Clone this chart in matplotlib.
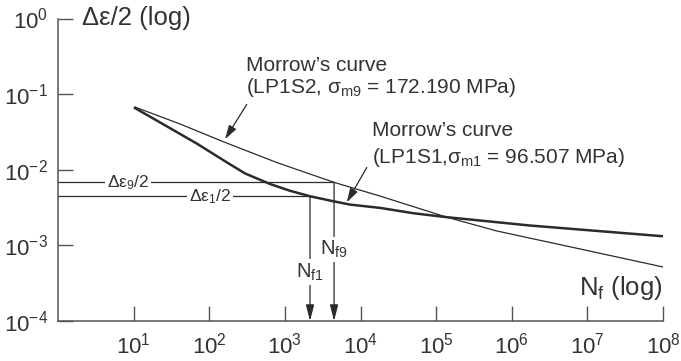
import matplotlib
matplotlib.use("Agg")
import matplotlib.pyplot as plt

plt.rcParams['font.family'] = ['Liberation Sans', 'DejaVu Sans']
plt.rcParams['mathtext.fontset'] = 'custom'
plt.rcParams['mathtext.rm'] = 'Liberation Sans'
plt.rcParams['mathtext.it'] = 'Liberation Sans'
plt.rcParams['mathtext.bf'] = 'Liberation Sans:bold'

# ---- data ----
# Morrow's curve LP1S1 (sigma_m1 = 96.507 MPa), thick line
n_lp1s1 = [10.4, 24.7, 68.4, 172, 298, 637, 1150, 2150, 4385, 7280, 18200, 50100,
           138000, 1.75e6, 1e8]
e_lp1s1 = [0.0655, 0.0399, 0.0222, 0.01247, 0.00893, 0.00648, 0.00530, 0.00446,
           0.00383, 0.00346, 0.00313, 0.00266, 0.00236, 0.00183, 0.00132]
# Morrow's curve LP1S2 (sigma_m9 = 172.190 MPa), thin line
n_lp1s2 = [10.4, 41.1, 153, 780, 4470, 18200, 138000, 635000, 4.83e6, 1e8]
e_lp1s2 = [0.0675, 0.0403, 0.0235, 0.01247, 0.00681, 0.00448, 0.00236, 0.00155,
           0.00100, 0.000518]
# strain amplitudes and lives
de9_half = 0.00681
de1_half = 0.00446
nf9 = 4470
nf1 = 2150

x_ticks = [1e1, 1e2, 1e3, 1e4, 1e5, 1e6, 1e7, 1e8]
x_ticklabels = [r'$10^{%d}$' % k for k in range(1, 9)]
y_ticks = [1e-4, 1e-3, 1e-2, 1e-1, 1e0]
y_ticklabels = [r'$10^{-4}$', r'$10^{-3}$', r'$10^{-2}$', r'$10^{-1}$', r'$10^{0}$']

INK = '#2b2b2b'
AX = '#555555'
TXT = '#333333'

fig = plt.figure(figsize=(6.81, 3.61), dpi=100)
ax = fig.add_axes([58/681, 1 - 321/361, (663 - 58)/681, (321 - 18.5)/361])
ax.set_xscale('log')
ax.set_yscale('log')
ax.set_xlim(1, 1e8)
ax.set_ylim(1e-4, 1)

for s in ['top', 'right']:
    ax.spines[s].set_visible(False)
for s in ['left', 'bottom']:
    ax.spines[s].set_color(AX)
    ax.spines[s].set_linewidth(1.1)

ax.set_xticks(x_ticks)
ax.set_xticklabels(x_ticklabels)
ax.set_yticks(y_ticks)
ax.set_yticklabels(y_ticklabels)
ax.minorticks_off()
ax.tick_params(axis='both', which='major', direction='in', length=11, width=1.0,
               color=AX, labelcolor=TXT, labelsize=16)
ax.tick_params(axis='x', pad=8)
ax.tick_params(axis='y', pad=7)

# curves
ax.plot(n_lp1s1, e_lp1s1, color=INK, lw=1.8, solid_joinstyle='round')
ax.plot(n_lp1s2, e_lp1s2, color=INK, lw=0.9, solid_joinstyle='round')

# horizontal reference lines
ax.plot([1, nf9], [de9_half, de9_half], color=INK, lw=0.9)
ax.plot([1, nf1], [de1_half, de1_half], color=INK, lw=0.9)

# vertical arrows to N axis
arr = dict(arrowstyle='-|>,head_length=0.7,head_width=0.18', color=INK, lw=0.9,
           shrinkA=0, shrinkB=0, mutation_scale=14)
ax.annotate('', xy=(nf1, 1e-4), xytext=(nf1, de1_half), arrowprops=arr)
ax.annotate('', xy=(nf9, 1e-4), xytext=(nf9, de9_half), arrowprops=arr)

wb = dict(facecolor='white', edgecolor='none', pad=1.5)
ax.text(8.43, de9_half, r'$\Delta\varepsilon_{9}/2$', ha='center', va='center',
        fontsize=12.5, color=TXT, bbox=wb)
ax.text(103, de1_half, r'$\Delta\varepsilon_{1}/2$', ha='center', va='center',
        fontsize=12.5, color=TXT, bbox=wb)
ax.text(nf9, 8.86e-4, r'$\mathrm{N_{f9}}$', ha='center', va='center',
        fontsize=14.5, color=TXT, bbox=wb)
ax.text(nf1, 4.46e-4, r'$\mathrm{N_{f1}}$', ha='center', va='center',
        fontsize=14.5, color=TXT, bbox=wb)

# axis titles
ax.text(2.1, 1.0, 'Δε/2 (log)', ha='left', va='center', fontsize=18.5, color=TXT)
ax.text(1e8, 2.2e-4, r'N$_\mathrm{f}$ (log)', ha='right', va='baseline', fontsize=18.5,
        color=TXT)

# curve labels
ax.text(307, 0.201, 'Morrow’s curve', ha='left', va='baseline', fontsize=15, color=TXT)
ax.text(307, 0.104, r'(LP1S2, $\sigma_{\mathrm{m9}}$ = 172.190 MPa)', ha='left', va='baseline',
        fontsize=15, color=TXT)
ax.text(14100, 0.028, 'Morrow’s curve', ha='left', va='baseline', fontsize=15, color=TXT)
ax.text(14100, 0.01247, r'(LP1S1,$\sigma_{\mathrm{m1}}$ = 96.507 MPa)', ha='left', va='baseline',
        fontsize=15, color=TXT)

arr2 = dict(arrowstyle='-|>,head_length=0.6,head_width=0.18', color=INK, lw=0.9,
            shrinkA=0, shrinkB=0, mutation_scale=14)
ax.annotate('', xy=(162, 0.0254), xytext=(313, 0.0731), arrowprops=arr2)
ax.annotate('', xy=(6590, 0.00372), xytext=(12100, 0.0107), arrowprops=arr2)

fig.savefig('out.png', dpi=100)
